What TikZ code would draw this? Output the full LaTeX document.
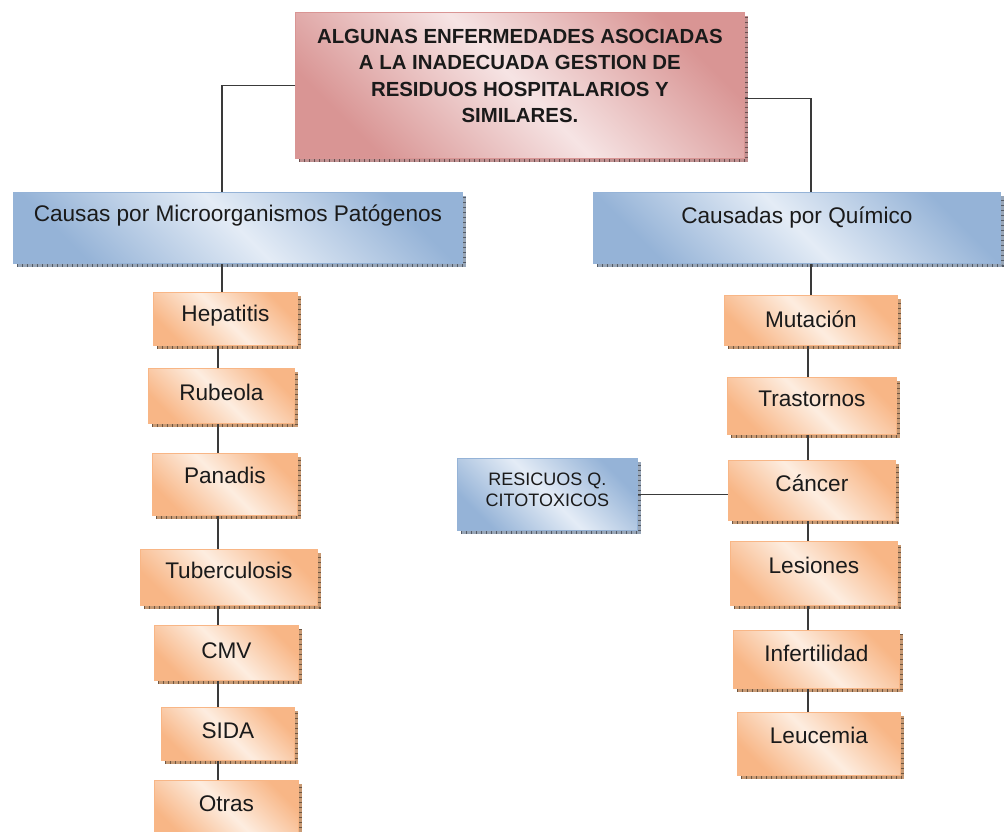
\documentclass[tikz,border=0pt]{standalone}
\usepackage{fontspec}
\setmainfont{Liberation Sans}
\usetikzlibrary{calc}
\definecolor{pinkD}{HTML}{D99594}
\definecolor{pinkL}{HTML}{F6E4E4}
\definecolor{pinkS}{HTML}{C09090}
\definecolor{blueD}{HTML}{95B3D7}
\definecolor{blueL}{HTML}{E4ECF6}
\definecolor{blueS}{HTML}{98A6B8}
\definecolor{orD}{HTML}{F8B686}
\definecolor{orL}{HTML}{FDEDE0}
\definecolor{orS}{HTML}{C89A74}
\definecolor{txt}{HTML}{1A1A1A}
\definecolor{conn}{HTML}{3A3A3A}
\begin{document}
\begin{tikzpicture}[x=1pt,y=-1pt,
  box/.style={rectangle, anchor=north west, inner sep=0pt, text=txt, line width=0.8pt},
  pinkbox/.style={box, draw=pinkD, shading=axis, bottom color=pinkD, top color=pinkD, middle color=pinkL, shading angle=-45,
    font=\fontsize{20.4}{26.5}\selectfont\bfseries, align=center},
  bluebox/.style={box, draw=blueD, shading=axis, bottom color=blueD, top color=blueD, middle color=blueL, shading angle=-45,
    font=\fontsize{22.6}{27}\selectfont},
  smallblue/.style={box, draw=blueD, shading=axis, bottom color=blueD, top color=blueD, middle color=blueL, shading angle=-45,
    font=\fontsize{18}{21}\selectfont, align=center},
  orbox/.style={box, draw=orD, shading=axis, bottom color=orD, top color=orD, middle color=orL, shading angle=-45,
    font=\fontsize{22.6}{27}\selectfont},
  link/.style={draw=conn, line width=1.4pt},
  shadowbase/.style={line width=2.6pt, draw=#1},
  shadowtick/.style={line width=2.6pt, draw=#1!55!black, dash pattern=on 1pt off 4pt}
]
\useasboundingbox (0,0) rectangle (1005,832);
\clip (0,0) rectangle (1005,832);

% title
\node[pinkbox, minimum width=449pt, minimum height=146pt, text height=110.5pt, text depth=35.5pt] (title) at (295,12)
  {ALGUNAS ENFERMEDADES ASOCIADAS\\A LA INADECUADA GESTION DE\\RESIDUOS HOSPITALARIOS Y\\SIMILARES.};

% branch boxes
\node[bluebox, minimum width=449pt, minimum height=71pt, text height=29pt, text depth=42pt] (lb) at (13,192)
  {Causas por Microorganismos Patógenos};
\node[bluebox, minimum width=407pt, minimum height=71pt, text height=31pt, text depth=40pt] (rb) at (593,192)
  {Causadas por Químico};

% left column
\node[orbox, minimum width=144pt, minimum height=53pt, text height=29pt, text depth=24pt] (hep) at (153,292) {Hepatitis};
\node[orbox, minimum width=146pt, minimum height=55pt, text height=32pt, text depth=23pt] (rub) at (148,368) {Rubeola};
\node[orbox, minimum width=145pt, minimum height=62pt, text height=30pt, text depth=32pt] (pan) at (152,453) {Panadis};
\node[orbox, minimum width=177pt, minimum height=56pt, text height=29pt, text depth=27pt] (tub) at (140,549) {Tuberculosis};
\node[orbox, minimum width=144pt, minimum height=55pt, text height=33pt, text depth=22pt] (cmv) at (154,625) {CMV};
\node[orbox, minimum width=133pt, minimum height=53pt, text height=31pt, text depth=22pt] (sida) at (161,707) {SIDA};
\node[orbox, minimum width=144pt, minimum height=58pt, text height=31pt, text depth=27pt] (otr) at (154,780) {Otras};

% right column
\node[orbox, minimum width=173pt, minimum height=50pt, text height=32pt, text depth=18pt] (mut) at (724,295) {Mutación};
\node[orbox, minimum width=169pt, minimum height=57pt, text height=29pt, text depth=28pt] (tra) at (727,377) {Trastornos};
\node[orbox, minimum width=167pt, minimum height=60pt, text height=31pt, text depth=29pt] (can) at (728,460) {Cáncer};
\node[orbox, minimum width=167pt, minimum height=64pt, text height=32pt, text depth=32pt] (les) at (730,541) {Lesiones};
\node[orbox, minimum width=166pt, minimum height=58pt, text height=31pt, text depth=27pt] (inf) at (733,630) {Infertilidad};
\node[orbox, minimum width=163pt, minimum height=63pt, text height=31pt, text depth=32pt] (leu) at (737,712) {Leucemia};

% side box
\node[smallblue, minimum width=180pt, minimum height=72pt, text height=48.5pt, text depth=23.5pt] (rq) at (457,458)
  {RESICUOS Q.\\CITOTOXICOS};

% shadows
\foreach \n/\c in {title/pinkS, lb/blueS, rb/blueS, rq/blueS,
  hep/orS, rub/orS, pan/orS, tub/orS, cmv/orS, sida/orS, otr/orS,
  mut/orS, tra/orS, can/orS, les/orS, inf/orS, leu/orS} {
  \draw[shadowbase=\c] ([xshift=4pt,yshift=-1.6pt]\n.south west) -- ([xshift=1.6pt,yshift=-1.6pt]\n.south east)
    -- ([xshift=1.6pt,yshift=-4pt]\n.north east);
  \draw[shadowtick=\c] ([xshift=4pt,yshift=-1.6pt]\n.south west) -- ([xshift=1.6pt,yshift=-1.6pt]\n.south east)
    -- ([xshift=1.6pt,yshift=-4pt]\n.north east);
}

% connectors
\coordinate (lt) at (222,0);
\coordinate (lc) at (218,0);
\coordinate (rt) at (811,0);
\coordinate (rc) at (808,0);
\draw[link] (title.west) -| (lb.north -| lt);
\draw[link] ([yshift=-13pt]title.east) -| (rb.north -| rt);
\draw[link] (lb.south -| lt) -- (hep.north -| lt);
\draw[link] (hep.south -| lc) -- (rub.north -| lc);
\draw[link] (rub.south -| lc) -- (pan.north -| lc);
\draw[link] (pan.south -| lc) -- (tub.north -| lc);
\draw[link] (tub.south -| lc) -- (cmv.north -| lc);
\draw[link] (cmv.south -| lc) -- (sida.north -| lc);
\draw[link] (sida.south -| lc) -- (otr.north -| lc);
\draw[link] (rb.south -| rt) -- (mut.north -| rt);
\draw[link] (mut.south -| rc) -- (tra.north -| rc);
\draw[link] (tra.south -| rc) -- (can.north -| rc);
\draw[link] (can.south -| rc) -- (les.north -| rc);
\draw[link] (les.south -| rc) -- (inf.north -| rc);
\draw[link] (inf.south -| rc) -- (leu.north -| rc);
\draw[link] (rq.east) -- (rq.east -| can.west);
\end{tikzpicture}
\end{document}
